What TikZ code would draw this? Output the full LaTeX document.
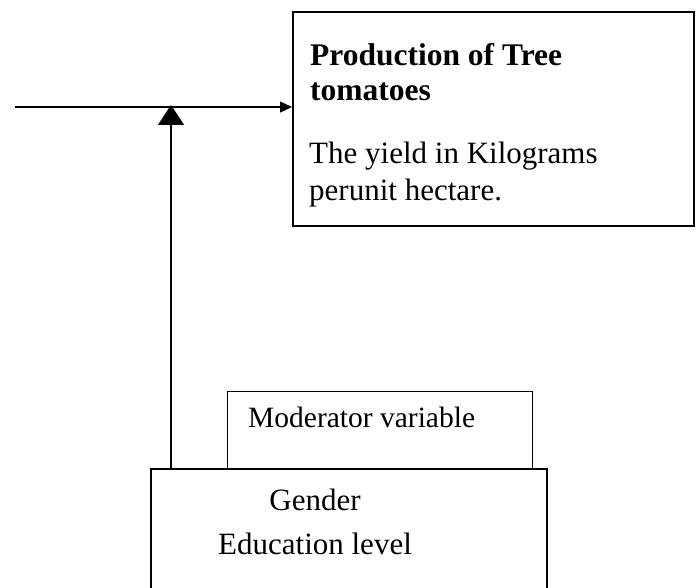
\documentclass[tikz,border=0pt]{standalone}
\usepackage{fontspec}
\setmainfont{Liberation Serif}
\usetikzlibrary{arrows.meta}
\begin{document}
\begin{tikzpicture}[x=1pt,y=-1pt,
  thickbox/.style={draw,line width=2.2pt,inner sep=0pt,anchor=north west},
  thinbox/.style={draw,line width=1pt,inner sep=0pt,anchor=north west},
  txt/.style={inner sep=0pt,anchor=base west,font=\fontsize{31}{36}\selectfont},
  btxt/.style={inner sep=0pt,anchor=base west,font=\fontsize{31.5}{36}\selectfont\bfseries},
  mtxt/.style={inner sep=0pt,anchor=base west,font=\fontsize{29.5}{34}\selectfont},
  ctxt/.style={inner sep=0pt,anchor=base,font=\fontsize{31}{36}\selectfont},
  hconn/.style={line width=1.1pt},
  vconn/.style={line width=1.6pt}]
\useasboundingbox (0,0) rectangle (697,588);
\clip (0,0) rectangle (697,588);
% boxes
\node[thickbox,minimum width=401pt,minimum height=214pt] (out) at (292,11) {};
\node[thinbox,minimum width=305pt,minimum height=77pt] (mod) at (227,391) {};
\node[thickbox,minimum width=396pt,minimum height=140pt] (gen) at (150,468) {};
% texts
\node[btxt] (t1) at (310,66) {Production of Tree};
\node[btxt] (t2) at (310,101) {tomatoes};
\node[txt] (t3) at (309,164) {The yield in Kilograms};
\node[txt] (t4) at (309,201) {perunit hectare.};
\node[mtxt] (m1) at (248,428) {Moderator variable};
\node[ctxt] (g1) at (315,510) {Gender};
\node[ctxt] (g2) at (315,554) {Education level};
% connectors
\coordinate (src) at (15,107);
\coordinate (junc) at (171,105);
\draw[hconn,-{Triangle[length=12pt,width=11pt]}] (src) -- (src -| out.west);
\draw[vconn,-{Triangle[length=20pt,width=26pt]}] (gen.north -| junc) -- (junc);
\end{tikzpicture}
\end{document}
